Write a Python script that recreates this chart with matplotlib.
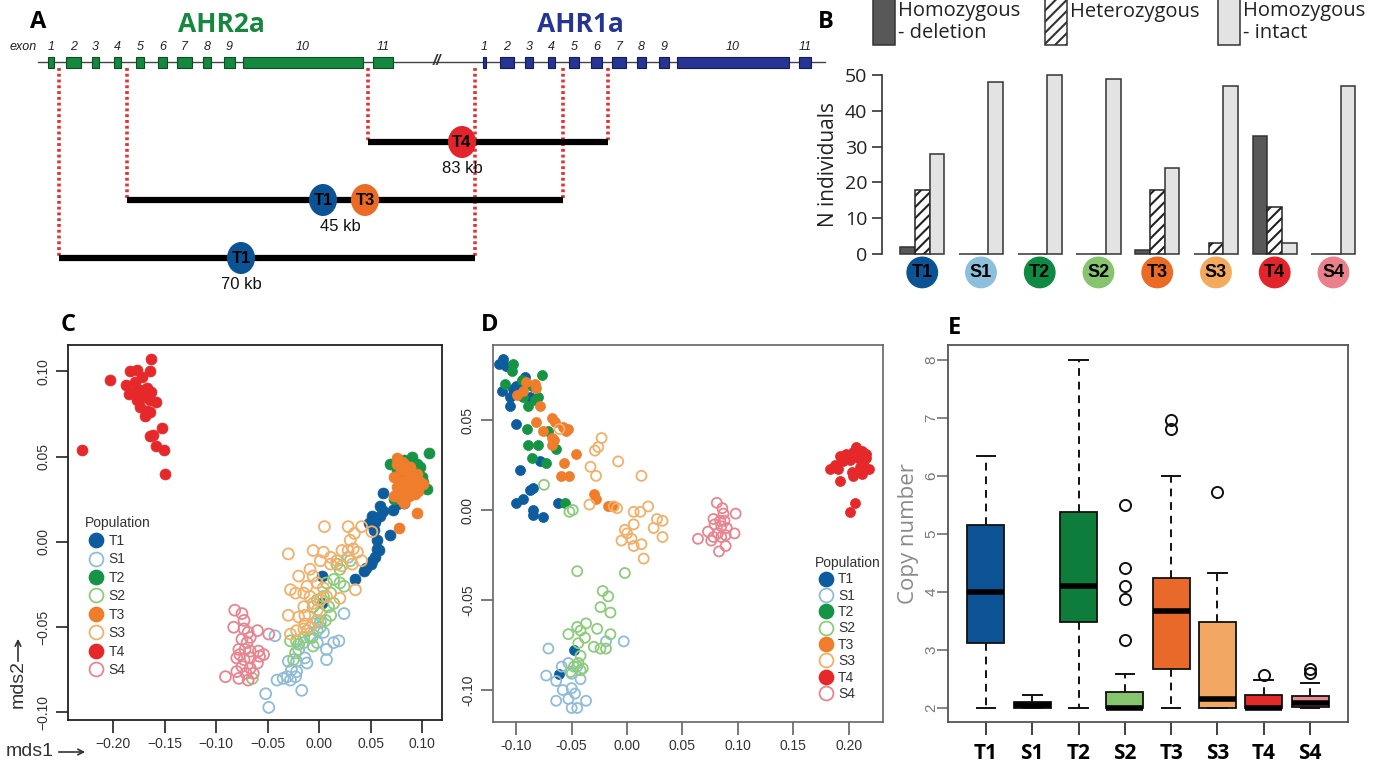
import matplotlib
matplotlib.use("Agg")
import matplotlib.pyplot as plt
from matplotlib.patches import Rectangle, Ellipse
from matplotlib.lines import Line2D
import numpy as np

plt.rcParams['font.family'] = ['Liberation Sans', 'DejaVu Sans']
plt.rcParams['hatch.linewidth'] = 1.5

# ---------------- data ----------------
pop_labels = ['T1', 'S1', 'T2', 'S2', 'T3', 'S3', 'T4', 'S4']
pop_colors = ['#0b5394', '#8cbfdc', '#0e8a43', '#86c46d', '#ec6b24', '#f4a95c', '#e3242b', '#ec7f8c']
scat_colors = ['#0d5c9e', '#8fbcd6', '#169445', '#8ccc7a', '#ef7d2b', '#f2b06a', '#e6282a', '#e88590']
pop_filled = [True, False, True, False, True, False, True, False]

# Panel A (schematic positions along the locus)
ahr2_start = [48, 66, 92, 114, 136, 158, 177, 203, 224, 243, 373]
ahr2_end = [54, 81, 99, 121, 144, 167, 192, 211, 235, 363, 393]
ahr1_start = [483, 500, 525, 548, 569, 591, 612, 637, 659, 677, 799]
ahr1_end = [486, 514, 533, 555, 579, 602, 626, 646, 669, 789, 811]
del_start = [368, 127, 59]
del_end = [608, 563, 475]
del_level = [142, 200, 258]
del_size = ['83 kb', '45 kb', '70 kb']
del_size_x = [462, 340, 241]
del_pops = [['T4'], ['T1', 'T3'], ['T1']]
del_pop_x = [[462], [323, 365], [241]]

# Panel B
b_deletion = [2, 0, 0, 0, 1, 0, 33, 0]
b_hetero = [18, 0, 0, 0, 18, 3, 13, 0]
b_intact = [28, 48, 50, 49, 24, 47, 3, 47]

# Panel C (mds1, mds2)
c_x = {
 'T1': [0.062,0.059,0.051,0.054,0.071,0.082,0.069,0.056,0.058,0.054,0.050,0.043,0.035,0.045,0.051,0.079,0.062,0.003,0.003,0.053,0.048,0.075,0.059,0.056],
 'S1': [0.024,0.019,0.007,-0.002,-0.006,0.001,0.004,-0.009,-0.015,-0.020,-0.014,-0.022,-0.030,-0.027,-0.022,-0.031,-0.028,-0.023,-0.035,-0.017,-0.041,-0.052,-0.049,-0.043,0.028,0.007,-0.002,-0.012,0.014],
 'T2': [0.106,0.090,0.069,0.098,0.104,0.095,0.082,0.100,0.075,0.092,0.085,0.101,0.072,0.078,0.088,0.095,0.083,0.077,0.093,0.087],
 'S2': [0.024,0.020,0.017,0.014,0.007,0.011,0.004,-0.002,-0.006,0.009,0.011,0.006,-0.002,0.001,-0.012,-0.007,-0.015,-0.022,-0.028,-0.020,-0.006,-0.023,-0.025,-0.065,0.030,0.020,0.001,0.014],
 'T3': [0.075,0.082,0.079,0.088,0.072,0.080,0.087,0.095,0.101,0.075,0.083,0.090,0.096,0.072,0.079,0.087,0.093,0.082,0.075,0.092,0.085,0.098,0.077,0.095,0.077,0.080,0.090,0.083],
 'S3': [0.005,0.028,0.041,0.051,0.034,0.030,0.022,0.028,0.033,0.037,0.041,-0.030,-0.006,0.004,0.011,0.017,0.001,-0.009,-0.006,-0.020,-0.028,-0.023,-0.015,-0.012,-0.002,0.004,0.007,0.011,0.035,0.020,-0.030,-0.020,-0.014,-0.006,-0.002,-0.015,-0.022,-0.015,-0.009,-0.028,-0.014,0.032,0.022,-0.009,0.001,-0.002],
 'T4': [-0.163,-0.203,-0.184,-0.177,-0.164,-0.185,-0.180,-0.174,-0.167,-0.163,-0.171,-0.177,-0.164,-0.158,-0.174,-0.167,-0.169,-0.164,-0.153,-0.164,-0.161,-0.158,-0.151,-0.150,-0.230,-0.187,-0.179,-0.172],
 'S4': [-0.082,-0.075,-0.073,-0.083,-0.073,-0.060,-0.049,-0.067,-0.075,-0.070,-0.078,-0.072,-0.067,-0.059,-0.054,-0.080,-0.073,-0.067,-0.075,-0.067,-0.060,-0.080,-0.071,-0.091,-0.078,-0.069,-0.064,-0.077,-0.069,-0.058],
}
c_y = {
 'T1': [0.029,0.021,0.015,0.012,0.019,0.023,0.004,0.001,-0.005,-0.009,-0.013,-0.017,-0.022,-0.015,-0.011,0.025,0.018,-0.020,-0.036,0.007,0.011,0.022,0.015,-0.004],
 'S1': [-0.042,-0.058,-0.069,-0.052,-0.048,-0.047,-0.053,-0.056,-0.059,-0.063,-0.068,-0.070,-0.070,-0.075,-0.076,-0.079,-0.081,-0.079,-0.080,-0.087,-0.081,-0.089,-0.097,-0.055,-0.009,-0.063,-0.059,-0.071,-0.059],
 'T2': [0.052,0.050,0.046,0.044,0.031,0.034,0.048,0.038,0.042,0.033,0.027,0.035,0.025,0.038,0.042,0.046,0.035,0.030,0.040,0.045],
 'S2': [-0.026,-0.016,-0.013,-0.022,-0.024,-0.030,-0.032,-0.034,-0.038,-0.038,-0.043,-0.046,-0.046,-0.050,-0.052,-0.056,-0.056,-0.058,-0.058,-0.060,-0.061,-0.065,-0.069,-0.080,-0.011,-0.024,-0.042,-0.036],
 'T3': [0.049,0.046,0.042,0.044,0.038,0.036,0.038,0.040,0.034,0.032,0.030,0.032,0.030,0.027,0.025,0.027,0.028,0.023,0.046,0.036,0.042,0.035,0.029,0.017,0.008,0.047,0.040,0.034],
 'S3': [0.009,0.009,0.009,0.006,0.005,0.001,-0.005,-0.005,-0.004,-0.006,-0.011,-0.007,-0.005,-0.006,-0.009,-0.011,-0.011,-0.016,-0.020,-0.020,-0.028,-0.030,-0.030,-0.026,-0.024,-0.027,-0.032,-0.013,-0.028,-0.033,-0.043,-0.044,-0.043,-0.036,-0.040,-0.038,-0.052,-0.051,-0.050,-0.054,-0.048,-0.013,-0.014,-0.032,-0.034,-0.046],
 'T4': [0.107,0.095,0.100,0.101,0.100,0.087,0.088,0.089,0.090,0.088,0.085,0.083,0.083,0.082,0.079,0.077,0.074,0.076,0.067,0.062,0.063,0.056,0.054,0.040,0.054,0.092,0.094,0.097],
 'S4': [-0.040,-0.042,-0.046,-0.050,-0.051,-0.052,-0.054,-0.056,-0.057,-0.059,-0.063,-0.063,-0.064,-0.064,-0.066,-0.068,-0.069,-0.068,-0.073,-0.074,-0.071,-0.076,-0.077,-0.079,-0.080,-0.081,-0.077,-0.066,-0.053,-0.067],
}

# Panel D (mds1, mds2)
d_x = {
 'T1': [-0.112,-0.116,-0.109,-0.113,-0.106,-0.100,-0.095,-0.103,-0.106,-0.100,-0.097,-0.085,-0.088,-0.079,-0.100,-0.094,-0.085,-0.085,-0.076,-0.062,-0.048,-0.061,-0.088,-0.092],
 'S1': [-0.071,-0.073,-0.064,-0.053,-0.050,-0.058,-0.050,-0.064,-0.053,-0.047,-0.037,-0.050,-0.045,-0.019,-0.003,-0.042,-0.059,-0.045],
 'T2': [-0.103,-0.104,-0.110,-0.095,-0.077,-0.086,-0.080,-0.089,-0.090,-0.089,-0.080,-0.086,-0.073,-0.064,-0.071,-0.056,-0.094,-0.083],
 'S2': [-0.075,-0.052,-0.049,-0.045,-0.002,-0.022,-0.017,-0.024,-0.015,-0.037,-0.045,-0.053,-0.042,-0.027,-0.015,-0.038,-0.030,-0.024,-0.019,-0.044,-0.042,-0.048,-0.042,-0.040,-0.051,-0.044],
 'T3': [-0.091,-0.083,-0.082,-0.094,-0.099,-0.079,-0.082,-0.068,-0.065,-0.076,-0.068,-0.058,-0.053,-0.055,-0.068,-0.046,-0.057,-0.060,-0.052,-0.030,-0.028,-0.017,-0.014,-0.066],
 'S3': [-0.061,-0.023,-0.029,-0.026,-0.008,-0.033,-0.028,0.013,-0.034,-0.012,-0.009,0.019,0.006,0.012,0.027,0.032,-0.002,0.006,0.024,0.032,-0.005,0.004,0.000,0.006,0.013,0.015],
 'T4': [0.207,0.212,0.204,0.198,0.192,0.216,0.208,0.201,0.195,0.188,0.183,0.218,0.210,0.203,0.212,0.204,0.192,0.206,0.201,0.213,0.190,0.216],
 'S4': [0.081,0.086,0.087,0.098,0.078,0.084,0.088,0.079,0.085,0.090,0.097,0.073,0.082,0.078,0.089,0.064,0.076,0.085,0.089,0.083],
}
d_y = {
 'T1': [0.084,0.081,0.080,0.066,0.063,0.069,0.069,0.067,0.058,0.048,0.022,0.012,0.011,0.027,0.004,0.006,0.000,-0.003,-0.004,0.004,-0.078,-0.091,0.063,0.074],
 'S1': [-0.077,-0.092,-0.095,-0.085,-0.091,-0.100,-0.099,-0.106,-0.105,-0.102,-0.106,-0.110,-0.110,-0.073,-0.073,-0.094,-0.087,-0.087],
 'T2': [0.081,0.077,0.070,0.072,0.075,0.069,0.063,0.058,0.045,0.036,0.036,0.029,0.026,0.034,0.044,0.004,0.063,0.061],
 'S2': [0.014,-0.001,0.000,-0.034,-0.035,-0.045,-0.048,-0.054,-0.057,-0.063,-0.065,-0.069,-0.067,-0.066,-0.069,-0.071,-0.076,-0.077,-0.077,-0.074,-0.081,-0.087,-0.089,-0.088,-0.090,-0.085],
 'T3': [0.071,0.070,0.068,0.066,0.064,0.058,0.049,0.051,0.049,0.044,0.040,0.046,0.045,0.044,0.036,0.031,0.026,0.019,0.019,0.009,0.006,0.002,0.002,0.039],
 'S3': [0.045,0.040,0.033,0.035,0.027,0.024,0.019,0.019,0.003,0.002,0.001,0.002,-0.001,-0.001,-0.005,-0.006,-0.011,-0.008,-0.010,-0.015,-0.017,-0.016,-0.013,-0.020,-0.019,-0.027],
 'T4': [0.035,0.033,0.032,0.031,0.030,0.029,0.029,0.028,0.027,0.025,0.023,0.023,0.024,0.021,0.020,0.019,0.016,0.004,-0.001,0.026,0.023,0.031],
 'S4': [0.004,0.001,-0.002,-0.002,-0.005,-0.006,-0.006,-0.008,-0.009,-0.010,-0.013,-0.012,-0.013,-0.015,-0.014,-0.016,-0.017,-0.015,-0.020,-0.023],
}

# Panel E (copy number box stats)
e_q1 = [3.12, 2.00, 3.48, 2.00, 2.68, 2.00, 2.00, 2.02]
e_med = [4.00, 2.05, 4.10, 2.00, 3.68, 2.15, 2.00, 2.08]
e_q3 = [5.15, 2.10, 5.38, 2.27, 4.25, 3.48, 2.22, 2.20]
e_lo = [2.00, 2.00, 2.00, 2.00, 2.00, 2.00, 2.00, 2.00]
e_hi = [6.35, 2.22, 8.00, 2.58, 6.00, 4.33, 2.48, 2.43]
e_out = [[], [], [], [3.18, 3.88, 4.10, 4.42, 5.50], [6.82, 6.97], [5.72], [2.57], [2.60, 2.68]]
e_colors = ['#0b5394', '#8cbfdc', '#0e7d3c', '#86c46d', '#e8692a', '#f2a862', '#e02a2a', '#ef8a95']

# ---------------- figure ----------------
W, H = 1373, 765
fig = plt.figure(figsize=(W / 100, H / 100), dpi=100)


def axes_px(l, t, r, b):
    return fig.add_axes([l / W, 1 - b / H, (r - l) / W, (b - t) / H])


def scatter_panel(ax, xs, ys, s):
    for lab, col, filled in zip(pop_labels, scat_colors, pop_filled):
        if filled:
            ax.scatter(xs[lab], ys[lab], s=s, c=col, edgecolors=col, linewidths=0.5, zorder=3)
        else:
            ax.scatter(xs[lab], ys[lab], s=s, facecolors='none', edgecolors=col, linewidths=1.3, zorder=3)


def pop_legend(ax, anchor, ms, spacing):
    handles = []
    for lab, col, filled in zip(pop_labels, scat_colors, pop_filled):
        handles.append(Line2D([], [], ls='none', marker='o', ms=ms,
                              mfc=col if filled else 'none', mec=col, mew=1.3, label=lab))
    leg = ax.legend(handles=handles, title='Population', loc='upper left', bbox_to_anchor=anchor,
                    frameon=False, fontsize=10, title_fontsize=10, labelspacing=spacing,
                    handletextpad=0.1, borderaxespad=0, handlelength=1.6, labelcolor='#333333')
    leg._legend_box.align = 'left'
    leg.get_title().set_color('#333333')


def rotate_yticks(ax):
    for t in ax.get_yticklabels():
        t.set_rotation(90)
        t.set_va('center')
        t.set_ha('center')


# ---- Panel B ----
axB = axes_px(882, 68, 1359, 261)
g = np.arange(len(pop_labels))
xd = 1 + 4 * g
axB.bar(xd, b_deletion, width=1, align='edge', color='#585858', edgecolor='#333333', lw=1.1)
axB.bar(xd + 1, b_hetero, width=1, align='edge', color='white', edgecolor='#222222', hatch='///', lw=1.1)
axB.bar(xd + 2, b_intact, width=1, align='edge', color='#e3e3e3', edgecolor='#333333', lw=1.1)
axB.set_xlim(-0.24, 32.24)
axB.set_ylim(-2, 52)
for sp in ['top', 'right', 'bottom']:
    axB.spines[sp].set_visible(False)
axB.spines['left'].set_bounds(0, 50)
axB.spines['left'].set_color('#333333')
axB.spines['left'].set_linewidth(1.2)
axB.set_xticks([])
axB.set_yticks(range(0, 51, 10))
axB.tick_params(axis='y', length=7, width=1.2, labelsize=14, color='#333333', labelcolor='#222222')
for t in axB.get_yticklabels():
    t.set_family(['Open Sans', 'DejaVu Sans'])
axB.set_ylabel('N individuals', fontsize=15, family=['Open Sans', 'DejaVu Sans'], labelpad=4, color='#222222')
centers = xd + 1.5
axB.scatter(centers, np.full(len(centers), -5.2), s=480, c=pop_colors, clip_on=False, zorder=4)
for c, lab in zip(centers, pop_labels):
    axB.text(c, -5.2, lab, ha='center', va='center', fontsize=13, fontweight='bold',
             color='black', zorder=5, clip_on=False)

# ---- Panel C ----
axC = axes_px(68, 345, 442, 720)
scatter_panel(axC, c_x, c_y, 62)
axC.set_xlim(-0.2437, 0.119)
axC.set_ylim(-0.1044, 0.1155)
xt = [-0.20, -0.15, -0.10, -0.05, 0.00, 0.05, 0.10]
axC.set_xticks(xt)
axC.set_xticklabels(['\u22120.20', '\u22120.15', '\u22120.10', '\u22120.05', '0.00', '0.05', '0.10'])
yt = [-0.10, -0.05, 0.00, 0.05, 0.10]
axC.set_yticks(yt)
axC.set_yticklabels(['\u22120.10', '\u22120.05', '0.00', '0.05', '0.10'])
axC.tick_params(length=9, width=1.2, labelsize=10, color='#222222', labelcolor='#333333')
axC.tick_params(axis='y', pad=9)
rotate_yticks(axC)
for sp in axC.spines.values():
    sp.set_linewidth(1.3)
    sp.set_color('#222222')
pop_legend(axC, (0.03, 0.56), 10, 0.32)

# ---- Panel D ----
axD = axes_px(493, 345, 883, 722)
scatter_panel(axD, d_x, d_y, 52)
axD.set_xlim(-0.121, 0.231)
axD.set_ylim(-0.1178, 0.0917)
axD.set_xticks([-0.10, -0.05, 0.00, 0.05, 0.10, 0.15, 0.20])
axD.set_xticklabels(['-0.10', '-0.05', '0.00', '0.05', '0.10', '0.15', '0.20'])
axD.set_yticks([-0.10, -0.05, 0.00, 0.05])
axD.set_yticklabels(['-0.10', '-0.05', '0.00', '0.05'])
axD.tick_params(length=9, width=1.1, labelsize=10, color='#555555', labelcolor='#333333')
axD.tick_params(axis='y', pad=9)
rotate_yticks(axD)
for sp in axD.spines.values():
    sp.set_linewidth(1.2)
    sp.set_color('#666666')
pop_legend(axD, (0.81, 0.455), 10, 0.17)

# ---- Panel E ----
axE = axes_px(948, 345, 1348, 722)
stats = []
for lab, q1, med, q3, lo, hi, out in zip(pop_labels, e_q1, e_med, e_q3, e_lo, e_hi, e_out):
    stats.append(dict(label=lab, q1=q1, med=med, q3=q3, whislo=lo, whishi=hi, fliers=out))
bp = axE.bxp(stats, positions=range(1, 9), widths=0.8, patch_artist=True, showfliers=True,
             capwidths=0.4,
             boxprops=dict(edgecolor='#111111', lw=1.3),
             whiskerprops=dict(color='#111111', lw=1.4, ls=(0, (4, 3))),
             capprops=dict(color='#111111', lw=1.4),
             medianprops=dict(color='black', lw=4, solid_capstyle='butt'),
             flierprops=dict(marker='o', mfc='none', mec='#111111', ms=8, mew=1.4))
for patch, col in zip(bp['boxes'], e_colors):
    patch.set_facecolor(col)
axE.set_xlim(0.18, 8.82)
axE.set_ylim(1.76, 8.26)
axE.set_yticks(range(2, 9))
axE.tick_params(axis='y', length=8, width=1.1, labelsize=11, color='#666666', labelcolor='#777777', pad=4)
axE.tick_params(axis='x', length=9, width=1.3, color='#333333', pad=6)
rotate_yticks(axE)
for t in axE.get_xticklabels():
    t.set_fontsize(15)
    t.set_fontweight('bold')
    t.set_family(['Open Sans', 'DejaVu Sans'])
axE.set_ylabel('Copy number', fontsize=16, color='#8a8a8a', family=['Open Sans', 'DejaVu Sans'], labelpad=4)
for sp in axE.spines.values():
    sp.set_linewidth(1.3)
    sp.set_color('#555555')

# ---- Overlay: panel A diagram, letters, legend of B ----
ov = fig.add_axes([0, 0, 1, 1])
ov.set_xlim(0, W)
ov.set_ylim(H, 0)
ov.axis('off')

gene_y = 62
ov.plot([38, 825], [gene_y, gene_y], color='#444444', lw=1.0, zorder=1)
ov.text(437, gene_y - 1, '//', ha='center', va='center', fontsize=11, style='italic',
        fontweight='bold', color='#333333')
ov.text(10, 47, 'exon', ha='left', va='center', fontsize=9, style='italic', color='#222222')
for starts, ends, fc, ec in [(ahr2_start, ahr2_end, '#15873f', '#0c4d24'),
                             (ahr1_start, ahr1_end, '#263493', '#141c55')]:
    for i, (s, e) in enumerate(zip(starts, ends)):
        ov.add_patch(Rectangle((s, gene_y - 5.5), e - s, 11, fc=fc, ec=ec, lw=0.8, zorder=2))
        ov.text((s + e) / 2, 47, str(i + 1), ha='center', va='center', fontsize=9,
                style='italic', color='#222222')
ov.text(221, 24, 'AHR2a', ha='center', va='center', fontsize=19, fontweight='bold',
        color='#15873f', family=['Open Sans', 'DejaVu Sans'])
ov.text(580, 24, 'AHR1a', ha='center', va='center', fontsize=19, fontweight='bold',
        color='#263493', family=['Open Sans', 'DejaVu Sans'])

pop_col = dict(zip(pop_labels, pop_colors))
for s, e, lev, size, sx, pops, pxs in zip(del_start, del_end, del_level, del_size, del_size_x,
                                          del_pops, del_pop_x):
    for xx in (s, e):
        ov.plot([xx, xx], [gene_y + 6, lev], color='#e5312f', lw=2.6, ls=(0, (0.8, 0.8)), zorder=1)
    ov.plot([s, e], [lev, lev], color='black', lw=4.5, solid_capstyle='butt', zorder=2)
    for p, x0 in zip(pops, pxs):
        ov.add_patch(Ellipse((x0, lev), 28, 32, fc=pop_col[p], ec='none', zorder=3))
        ov.text(x0, lev, p, ha='center', va='center', fontsize=12, fontweight='bold', zorder=4)
    ov.text(sx, lev + 26, size, ha='center', va='center', fontsize=12, color='#111111')

# legend of panel B
leg_items = [(873, '#585858', None, 'Homozygous\n- deletion'),
             (1045, 'white', '///', 'Heterozygous'),
             (1218, '#e3e3e3', None, 'Homozygous\n- intact')]
for x0, fc, hatch, txt in leg_items:
    ov.add_patch(Rectangle((x0, -2), 22, 47, fc=fc, ec='#333333', lw=1.1, hatch=hatch, zorder=2))
    if '\n' in txt:
        ov.text(x0 + 25, 22, txt, ha='left', va='center', fontsize=14.5, linespacing=1.15,
                family=['Open Sans', 'DejaVu Sans'], color='#222222')
    else:
        ov.text(x0 + 25, 12, txt, ha='left', va='center', fontsize=14.5,
                family=['Open Sans', 'DejaVu Sans'], color='#222222')

# panel letters
for lx, ly, L in [(38, 22, 'A'), (826, 22, 'B'), (68, 325, 'C'), (490, 325, 'D'), (955, 328, 'E')]:
    ov.text(lx, ly, L, ha='center', va='center', fontsize=17, fontweight='bold',
            family=['Open Sans', 'DejaVu Sans'])

# axis arrows for C
ov.text(18, 684, 'mds2', rotation=90, ha='center', va='center', fontsize=14, color='#333333')
ov.annotate('', xy=(18, 636), xytext=(18, 664),
            arrowprops=dict(arrowstyle='->', color='#333333', lw=1.2))
ov.text(30, 752, 'mds1', ha='center', va='center', fontsize=14, color='#333333')
ov.annotate('', xy=(88, 752), xytext=(56, 752),
            arrowprops=dict(arrowstyle='->', color='#333333', lw=1.2))

fig.savefig('out.png', dpi=100)
